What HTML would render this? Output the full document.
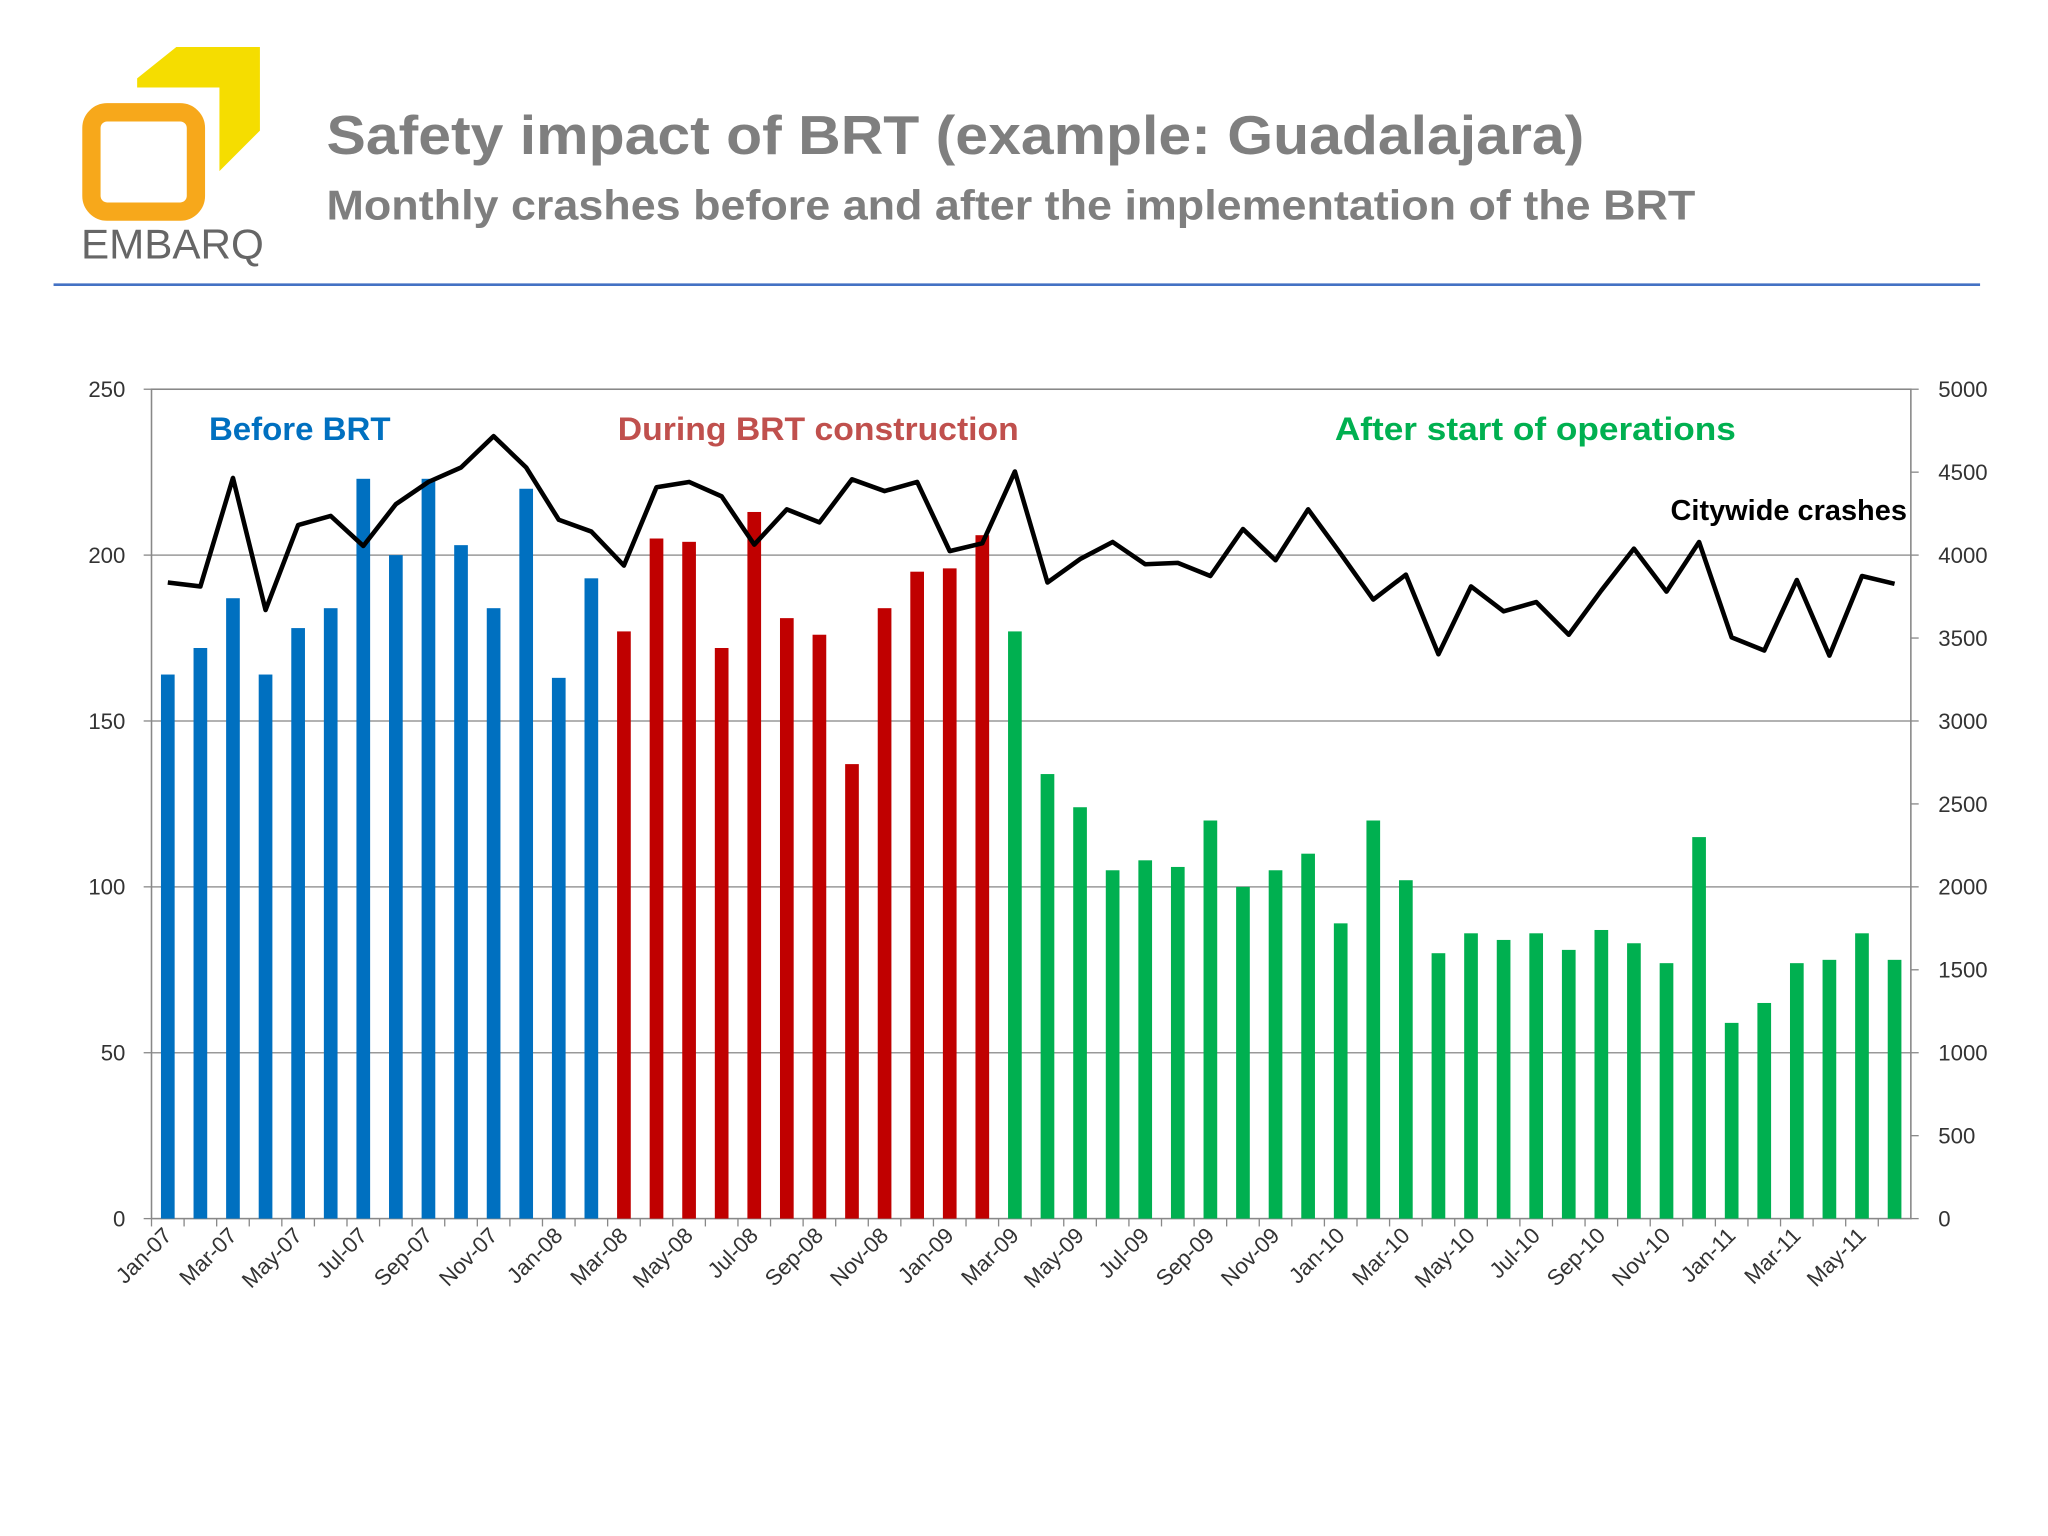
<!DOCTYPE html>
<html><head><meta charset="utf-8"><style>
html,body{margin:0;padding:0;background:#fff;}
svg{display:block;font-family:"Liberation Sans",sans-serif;}
</style></head><body>
<svg id="chart" width="2048" height="1536" viewBox="0 0 1568 1176" xmlns="http://www.w3.org/2000/svg">
<g>
<polygon points="105,60 135,36 199,36 199,100 168,131 168,67 105,67" fill="#f5dd00"/>
<rect x="70" y="86" width="80" height="76" rx="12" fill="none" stroke="#f7a81b" stroke-width="14"/>
<text x="62" y="198" font-size="32" fill="#666" textLength="140" lengthAdjust="spacingAndGlyphs">EMBARQ</text>
</g>
<text x="250" y="118" font-size="42" font-weight="bold" fill="#7f7f7f" textLength="963" lengthAdjust="spacingAndGlyphs">Safety impact of BRT (example: Guadalajara)</text>
<text x="250" y="168" font-size="32" font-weight="bold" fill="#7f7f7f" textLength="1048" lengthAdjust="spacingAndGlyphs">Monthly crashes before and after the implementation of the BRT</text>
<line x1="41" y1="218" x2="1516" y2="218" stroke="#4472c4" stroke-width="2"/>
<g id="plot"></g>
</svg>
<script>
const months=["Jan","Feb","Mar","Apr","May","Jun","Jul","Aug","Sep","Oct","Nov","Dec"];
const categories=[];
for(let y=7;y<=11;y++)for(let m=0;m<12;m++){if(y===11&&m>5)break;categories.push(months[m]+"-"+(y<10?"0"+y:y));}
const brtCrashes=[164,172,187,164,178,184,223,200,223,203,184,220,163,193,
177,205,204,172,213,181,176,137,184,195,196,206,
177,134,124,105,108,106,120,100,105,110,89,120,102,80,86,84,86,81,87,83,77,115,59,65,77,78,86,78];
const citywideCrashes=[3835,3811,4465,3669,4181,4236,4055,4307,4441,4528,4717,4528,4213,4142,
3937,4409,4441,4354,4063,4276,4197,4457,4386,4441,4024,4071,
4504,3835,3976,4079,3945,3953,3874,4157,3969,4276,4008,3732,3882,3402,3811,3661,3717,3520,3787,4039,3780,4079,3504,3425,3850,3394,3874,3827];
const leftTicks=[0,50,100,150,200,250];
const rightTicks=[0,500,1000,1500,2000,2500,3000,3500,4000,4500,5000];
const phaseEnds=[14,26]; // before: <14, during: <26, after
const phaseColors=["#0070c0","#c00000","#00b050"];

const L=116,R=1463,T=298,B=933,NS="http://www.w3.org/2000/svg";
const g=document.getElementById("plot");
const step=(R-L)/categories.length;
const xC=i=>L+step*(i+0.5);
const yL=v=>B-(v/250)*(B-T);
const yR=v=>B-(v/5000)*(B-T);
function el(t,a,txt){const e=document.createElementNS(NS,t);for(const k in a)e.setAttribute(k,a[k]);if(txt!==undefined)e.textContent=txt;g.appendChild(e);return e;}

leftTicks.forEach(v=>{
 if(v>0&&v<250){const gl=el("line",{x1:L,x2:R,y1:yL(v),y2:yL(v),stroke:"#999","stroke-width":1.2});
 
 }
 const tk=el("line",{x1:L-6,x2:L,y1:yL(v),y2:yL(v),stroke:"#888"});
 
 
 const t=el("text",{x:96,y:yL(v)+6,"text-anchor":"end","font-size":17,fill:"#333"},v);
 
 
});
rightTicks.forEach(v=>{
 const tk=el("line",{x1:R,x2:R+6,y1:yR(v),y2:yR(v),stroke:"#888"});
 
 
 const t=el("text",{x:1484,y:yR(v)+6,"font-size":17,fill:"#333"},v);
 
 
});
const frame=el("rect",{x:L,y:T,width:R-L,height:B-T,fill:"none",stroke:"#888","stroke-width":1.2});



const bw=step*0.42;
brtCrashes.forEach((v,i)=>{
 const ph=i<phaseEnds[0]?0:i<phaseEnds[1]?1:2;
 const b=el("rect",{x:xC(i)-bw/2,y:yL(v),width:bw,height:B-yL(v),fill:phaseColors[ph]});
 
 
});
categories.forEach((c,i)=>{
 const tk=el("line",{x1:L+step*i,x2:L+step*i,y1:B,y2:B+6,stroke:"#888"});
 
 
 if(i%2===0){
  const x=xC(i)+4,y=B+14;
  const t=el("text",{x:x,y:y,"text-anchor":"end","font-size":17,fill:"#333",transform:`rotate(-45 ${x} ${y})`},c);
  
  
 }
});
const pts=citywideCrashes.map((v,i)=>xC(i)+","+yR(v)).join(" ");
const line=el("polyline",{points:pts,fill:"none",stroke:"#000","stroke-width":3.5,"stroke-linejoin":"round"});



const labels=[["Before BRT",160,"#0070c0","before-brt-label",139],["During BRT construction",473,"#c0504d","during-brt-label",307],["After start of operations",1022,"#00b050","after-operations-label",307]];
labels.forEach(a=>{
 const t=el("text",{x:a[1],y:337,"font-size":25,"font-weight":"bold",fill:a[2],textLength:a[4],lengthAdjust:"spacingAndGlyphs"},a[0]);
 
 
});
const cl=el("text",{x:1279,y:398,"font-size":22,"font-weight":"bold",fill:"#000",textLength:181,lengthAdjust:"spacingAndGlyphs"},"Citywide crashes");


</script>
</body></html>
